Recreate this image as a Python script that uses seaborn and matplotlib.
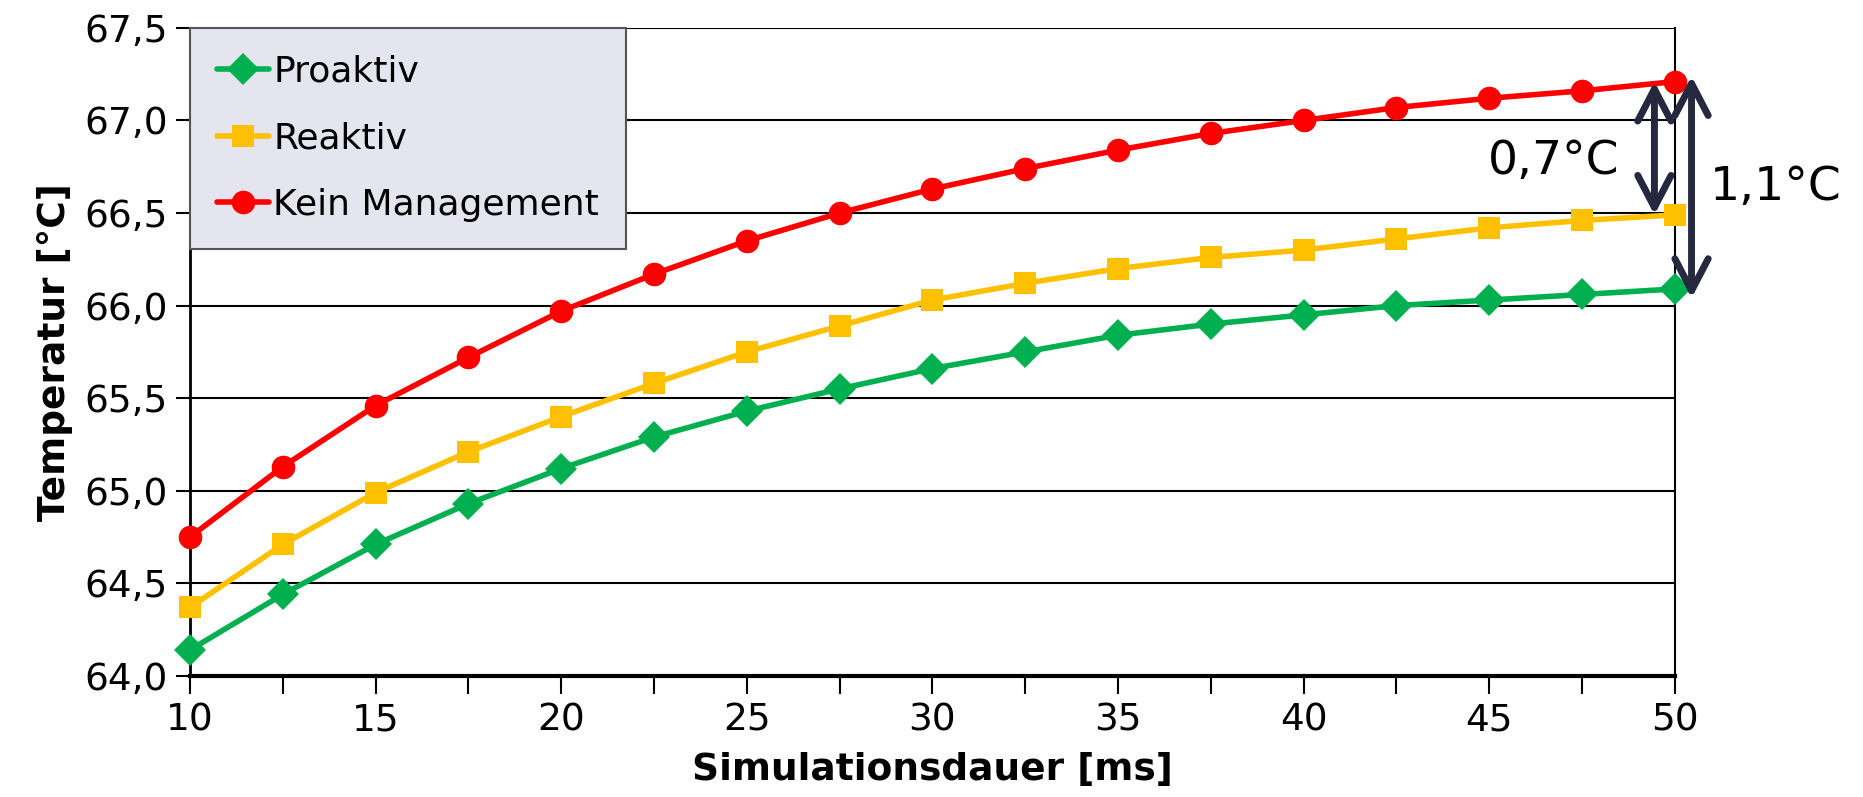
import matplotlib
matplotlib.use("Agg")
import matplotlib.pyplot as plt
import matplotlib.ticker as mticker
import seaborn as sns
import pandas as pd

# --- Daten
dauer_ms = [10, 12.5, 15, 17.5, 20, 22.5, 25, 27.5, 30, 32.5, 35, 37.5, 40, 42.5, 45, 47.5, 50]
proaktiv = [64.14, 64.44, 64.71, 64.93, 65.12, 65.29, 65.43, 65.55, 65.66, 65.75, 65.84, 65.90,
            65.95, 66.00, 66.03, 66.06, 66.09]
reaktiv = [64.37, 64.71, 64.99, 65.21, 65.40, 65.58, 65.75, 65.89, 66.03, 66.12, 66.20, 66.26,
           66.30, 66.36, 66.42, 66.46, 66.49]
kein_management = [64.75, 65.13, 65.46, 65.72, 65.97, 66.17, 66.35, 66.50, 66.63, 66.74, 66.84,
                   66.93, 67.00, 67.07, 67.12, 67.16, 67.21]

serien = ["Proaktiv", "Reaktiv", "Kein Management"]
farben = {"Proaktiv": "#00B050", "Reaktiv": "#FFC000", "Kein Management": "#FF0000"}
marker = {"Proaktiv": "D", "Reaktiv": "s", "Kein Management": "o"}
msize = {"Proaktiv": 16, "Reaktiv": 16, "Kein Management": 17}

df = pd.DataFrame({
    "dauer": dauer_ms * 3,
    "temp": proaktiv + reaktiv + kein_management,
    "serie": sum([[s] * len(dauer_ms) for s in serien], []),
})

sns.set_style("ticks")
plt.rcParams["font.family"] = ["DejaVu Sans"]
plt.rcParams.update({
    "text.color": "black", "axes.labelcolor": "black",
    "xtick.color": "black", "ytick.color": "black", "axes.edgecolor": "black",
})

fig = plt.figure(figsize=(18.63, 7.97), dpi=100)
ax = fig.add_axes([0.102, 0.152, 0.797, 0.813])

for s in serien:
    sub = df[df["serie"] == s]
    sns.lineplot(data=sub, x="dauer", y="temp", ax=ax, color=farben[s], label=s,
                 marker=marker[s], markersize=msize[s], markeredgewidth=0,
                 linewidth=4.0, clip_on=False, zorder=3)

ax.set_xlim(10, 50)
ax.set_ylim(64.0, 67.5)
ax.xaxis.set_major_locator(mticker.MultipleLocator(5))
ax.xaxis.set_minor_locator(mticker.MultipleLocator(2.5))
ax.yaxis.set_major_locator(mticker.MultipleLocator(0.5))
ax.yaxis.set_major_formatter(mticker.FuncFormatter(lambda v, p: f"{v:.1f}".replace(".", ",")))
ax.xaxis.set_major_formatter(mticker.FuncFormatter(lambda v, p: f"{v:.0f}"))

ax.grid(axis="y", color="black", linewidth=1.5)
ax.tick_params(axis="x", which="both", direction="out", length=13, width=1.5, labelsize=27, pad=6)
ax.tick_params(axis="y", direction="out", length=10, width=1.5, labelsize=27, pad=6)

ax.spines["top"].set_visible(False)
ax.spines["left"].set_linewidth(2)
ax.spines["bottom"].set_linewidth(3)
ax.spines["right"].set_linewidth(1.5)

ax.set_xlabel("Simulationsdauer [ms]", fontsize=27, fontweight="bold", labelpad=10)
ax.set_ylabel("Temperatur [°C]", fontsize=27, fontweight="bold", labelpad=8)

leg = ax.legend(loc="upper left", bbox_to_anchor=(0, 1), borderaxespad=0, fontsize=26,
                frameon=True, fancybox=False, facecolor="#E4E5EE", edgecolor="#555555",
                framealpha=1, handlelength=1.45, handletextpad=0.1, labelspacing=0.9,
                borderpad=0.75)
leg.get_frame().set_linewidth(1.5)
leg.set_zorder(5)

# --- Differenzpfeile
pfeil = dict(arrowstyle="<->,head_length=1.15,head_width=0.6", color="#262840", lw=5,
             shrinkA=0, shrinkB=0, mutation_scale=20)
ax.annotate("", xy=(49.45, reaktiv[-1]), xytext=(49.45, kein_management[-1]),
            arrowprops=pfeil, annotation_clip=False)
ax.annotate("", xy=(50.45, proaktiv[-1] - 0.05), xytext=(50.45, kein_management[-1] + 0.03),
            arrowprops=pfeil, annotation_clip=False)
ax.text(48.5, 66.78, "0,7°C", fontsize=34, ha="right", va="center")
ax.text(50.95, 66.64, "1,1°C", fontsize=34, ha="left", va="center")

fig.savefig("out.png", dpi=100)
